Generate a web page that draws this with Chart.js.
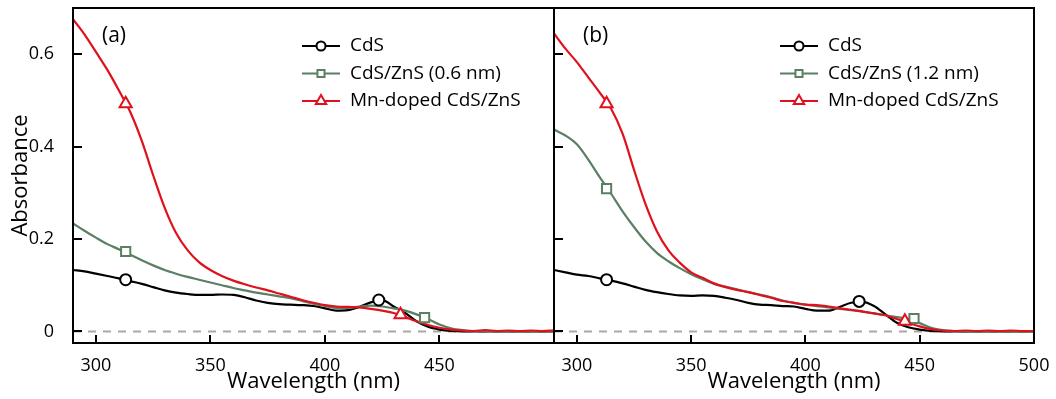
<!DOCTYPE html>
<html lang="en">
<head>
<meta charset="UTF-8">
<title>Absorbance spectra (a) and (b)</title>
<script src="https://cdn.jsdelivr.net/npm/chart.js@4.4.1/dist/chart.umd.min.js"></script>
<style>
  html, body { margin: 0; padding: 0; background: #fff; }
  #wrap { position: relative; width: 1056px; height: 399px; }
  #boxA { position: absolute; left: 0; top: 0; width: 556px; height: 399px; }
  #boxB { position: absolute; left: 554px; top: 0; width: 502px; height: 399px; }
</style>
</head>
<body>
<div id="wrap">
  <div id="boxA"><canvas id="chartA"></canvas></div>
  <div id="boxB"><canvas id="chartB"></canvas></div>
</div>
<script>
// wavelength grid (nm), shared by every curve
const wavelength = [290, 295, 300, 305, 310, 315, 320, 325, 330, 335, 340, 345, 350, 355, 360, 365,
  370, 375, 380, 385, 390, 395, 400, 405, 410, 415, 420, 425, 430, 435, 440, 445, 450, 455, 460,
  465, 470, 475, 480, 485, 490, 495, 500];

// panel (a)
const cdsA   = [.133, .130, .125, .120, .115, .109, .103, .096, .089, .084, .081, .079, .079, .080, .079, .074,
  .067, .062, .059, .058, .057, .055, .050, .045, .046, .053, .063, .068, .054, .040, .022, .010, .004, .001, 0,
  0, 0, 0, 0, 0, 0, 0, 0];
const shellA = [.234, .218, .203, .189, .178, .166, .154, .143, .133, .125, .118, .112, .106, .100, .094, .089,
  .084, .080, .076, .072, .066, .060, .055, .051, .051, .054, .056, .054, .050, .045, .037, .027, .015, .007, .003,
  .001, .001, 0, 0, 0, 0, 0, 0];
const mnA    = [.676, .643, .605, .566, .522, .475, .413, .338, .268, .213, .176, .150, .133, .120, .110, .102,
  .095, .089, .082, .075, .068, .062, .057, .054, .053, .052, .049, .045, .040, .031, .022, .014, .008, .004, .002,
  .001, .003, .001, .002, .001, .002, .001, .002];

// panel (b)
const cdsB   = [.133, .128, .123, .120, .115, .110, .104, .097, .090, .085, .081, .078, .077, .078, .077, .073,
  .068, .062, .058, .057, .055, .054, .049, .045, .045, .053, .062, .064, .055, .037, .019, .009, .004, .001, 0,
  0, 0, 0, 0, 0, 0, 0, 0];
const shellB = [.437, .424, .405, .372, .334, .298, .260, .226, .195, .170, .152, .137, .124, .113, .103, .097,
  .091, .085, .080, .074, .067, .062, .058, .055, .052, .049, .046, .043, .039, .035, .031, .027, .018, .008, .003,
  .001, 0, 0, 0, 0, 0, 0, 0];
const mnB    = [.645, .612, .583, .550, .517, .482, .428, .350, .276, .217, .176, .149, .128, .116, .104, .096,
  .090, .085, .079, .073, .066, .062, .058, .057, .054, .050, .047, .043, .039, .035, .027, .019, .011, .005, .002,
  .001, .002, .001, .002, .001, .002, .001, .001];

// marker positions [wavelength, absorbance]
const markCdsA   = [[313, 0.112], [423.5, 0.068]];
const markShellA = [[313, 0.173], [443.5, 0.030]];
const markMnA    = [[313, 0.493], [433, 0.036]];
const markCdsB   = [[313, 0.112], [423.5, 0.065]];
const markShellB = [[313, 0.309], [447.5, 0.028]];
const markMnB    = [[313, 0.493], [443.5, 0.022]];

const zeroLine = [[290, 0], [500, 0]];

// ticks and labels
const xTicksA = [300, 350, 400, 450];
const xTicksB = [300, 350, 400, 450, 500];
const yTicks = [0, 0.2, 0.4, 0.6];
const yTickLabels = ['0', '0.2', '0.4', '0.6'];

const legendA = ['CdS', 'CdS/ZnS (0.6 nm)', 'Mn-doped CdS/ZnS'];
const legendB = ['CdS', 'CdS/ZnS (1.2 nm)', 'Mn-doped CdS/ZnS'];

const FONT = '"Open Sans", sans-serif';
const BLACK = '#000000', GREEN = '#5b7f63', RED = '#e0101c', GREY = '#a8a8a8';
Chart.defaults.font.family = FONT;
Chart.defaults.color = '#000';

function lineSet(label, ys, color) {
  return {
    label, data: wavelength.map((w, i) => ({ x: w, y: ys[i] })),
    borderColor: color, borderWidth: 2.2, pointRadius: 0,
    cubicInterpolationMode: 'monotone', fill: false
  };
}

function markSet(pts, color, style, r) {
  return {
    data: pts.map(p => ({ x: p[0], y: p[1] })), showLine: false,
    pointStyle: style, pointRadius: r, pointBorderWidth: 2,
    pointBorderColor: color, pointBackgroundColor: '#fff', borderColor: color
  };
}

function noPad(s) {
  s.paddingTop = 0; s.paddingBottom = 0; s.paddingLeft = 0; s.paddingRight = 0;
}

// frame, inward ticks, panel label and legend
const panelDeco = {
  id: 'panelDeco',
  afterDatasetsDraw(chart, args, o) {
    const { ctx, chartArea: a, scales: { x, y } } = chart;
    ctx.save();
    ctx.strokeStyle = '#000';
    ctx.lineWidth = 2;
    ctx.beginPath();
    o.xTicks.forEach(v => {
      const px = Math.round(x.getPixelForValue(v));
      if (px < a.right - 2) { ctx.moveTo(px, a.bottom); ctx.lineTo(px, a.bottom - 8); }
    });
    yTicks.forEach(v => {
      const py = Math.round(y.getPixelForValue(v));
      ctx.moveTo(a.left, py); ctx.lineTo(a.left + 9, py);
    });
    ctx.stroke();
    ctx.strokeRect(a.left, a.top, a.right - a.left, a.bottom - a.top);

    ctx.fillStyle = '#000';
    ctx.textBaseline = 'middle';
    ctx.font = '21px ' + FONT;
    ctx.fillText(o.label, a.left + 29, a.top + 28);

    const styles = [['circle', BLACK, 4.5], ['rect', GREEN, 5], ['triangle', RED, 6]];
    ctx.font = '19px ' + FONT;
    o.items.forEach((txt, i) => {
      const [ps, col, r] = styles[i];
      const lx = a.left + o.legendX, ly = a.top + 38 + i * 27.5;
      ctx.strokeStyle = col;
      ctx.lineWidth = 2;
      ctx.beginPath(); ctx.moveTo(lx, ly); ctx.lineTo(lx + 38, ly); ctx.stroke();
      ctx.fillStyle = '#fff';
      Chart.helpers.drawPoint(ctx, { pointStyle: ps, radius: r, borderWidth: 2, rotation: 0 }, lx + 19, ly);
      ctx.fillStyle = '#000';
      ctx.fillText(txt, lx + 48, ly);
    });
    ctx.restore();
  }
};

function panel(id, o) {
  return new Chart(document.getElementById(id), {
    type: 'line',
    data: {
      datasets: [
        markSet(o.marks[2], RED, 'triangle', 7),
        markSet(o.marks[1], GREEN, 'rect', 6.5),
        markSet(o.marks[0], BLACK, 'circle', 5.5),
        lineSet(o.items[2], o.series[2], RED),
        lineSet(o.items[1], o.series[1], GREEN),
        lineSet(o.items[0], o.series[0], BLACK),
        {
          data: zeroLine.map(p => ({ x: p[0], y: p[1] })), borderColor: GREY,
          borderWidth: 2, borderDash: [8, 7], pointRadius: 0
        }
      ]
    },
    options: {
      responsive: true, maintainAspectRatio: false, animation: false, events: [],
      layout: { autoPadding: false, padding: { top: 8, right: o.padRight, left: 0, bottom: 0 } },
      plugins: {
        legend: { display: false }, tooltip: { enabled: false },
        panelDeco: { label: o.label, legendX: o.legendX, items: o.items, xTicks: o.xTicks }
      },
      scales: {
        x: {
          type: 'linear', min: 290, max: 500,
          afterBuildTicks: s => { s.ticks = o.xTicks.map(v => ({ value: v })); },
          afterFit: s => { s.height = 56; noPad(s); },
          grid: { display: false }, border: { display: false },
          ticks: { padding: 4, autoSkip: false, maxRotation: 0, font: { size: 18 } },
          title: { display: true, text: 'Wavelength (nm)', font: { size: 22 }, padding: { top: 0, bottom: 4 } }
        },
        y: {
          type: 'linear', min: -0.025, max: 0.7, display: o.showY,
          afterBuildTicks: s => { s.ticks = yTicks.map(v => ({ value: v })); },
          afterFit: s => { s.width = o.showY ? 73 : 0; noPad(s); },
          grid: { display: false }, border: { display: false },
          ticks: { padding: 11, font: { size: 18 }, callback: (v, i) => yTickLabels[i] },
          title: { display: true, text: 'Absorbance', font: { size: 22 }, padding: { top: 8, bottom: 0 } }
        }
      }
    },
    plugins: [panelDeco]
  });
}

panel('chartA', {
  label: '(a)', legendX: 229, padRight: 2, showY: true, xTicks: xTicksA, items: legendA,
  series: [cdsA, shellA, mnA], marks: [markCdsA, markShellA, markMnA]
});
panel('chartB', {
  label: '(b)', legendX: 226, padRight: 22, showY: false, xTicks: xTicksB, items: legendB,
  series: [cdsB, shellB, mnB], marks: [markCdsB, markShellB, markMnB]
});
</script>
</body>
</html>
